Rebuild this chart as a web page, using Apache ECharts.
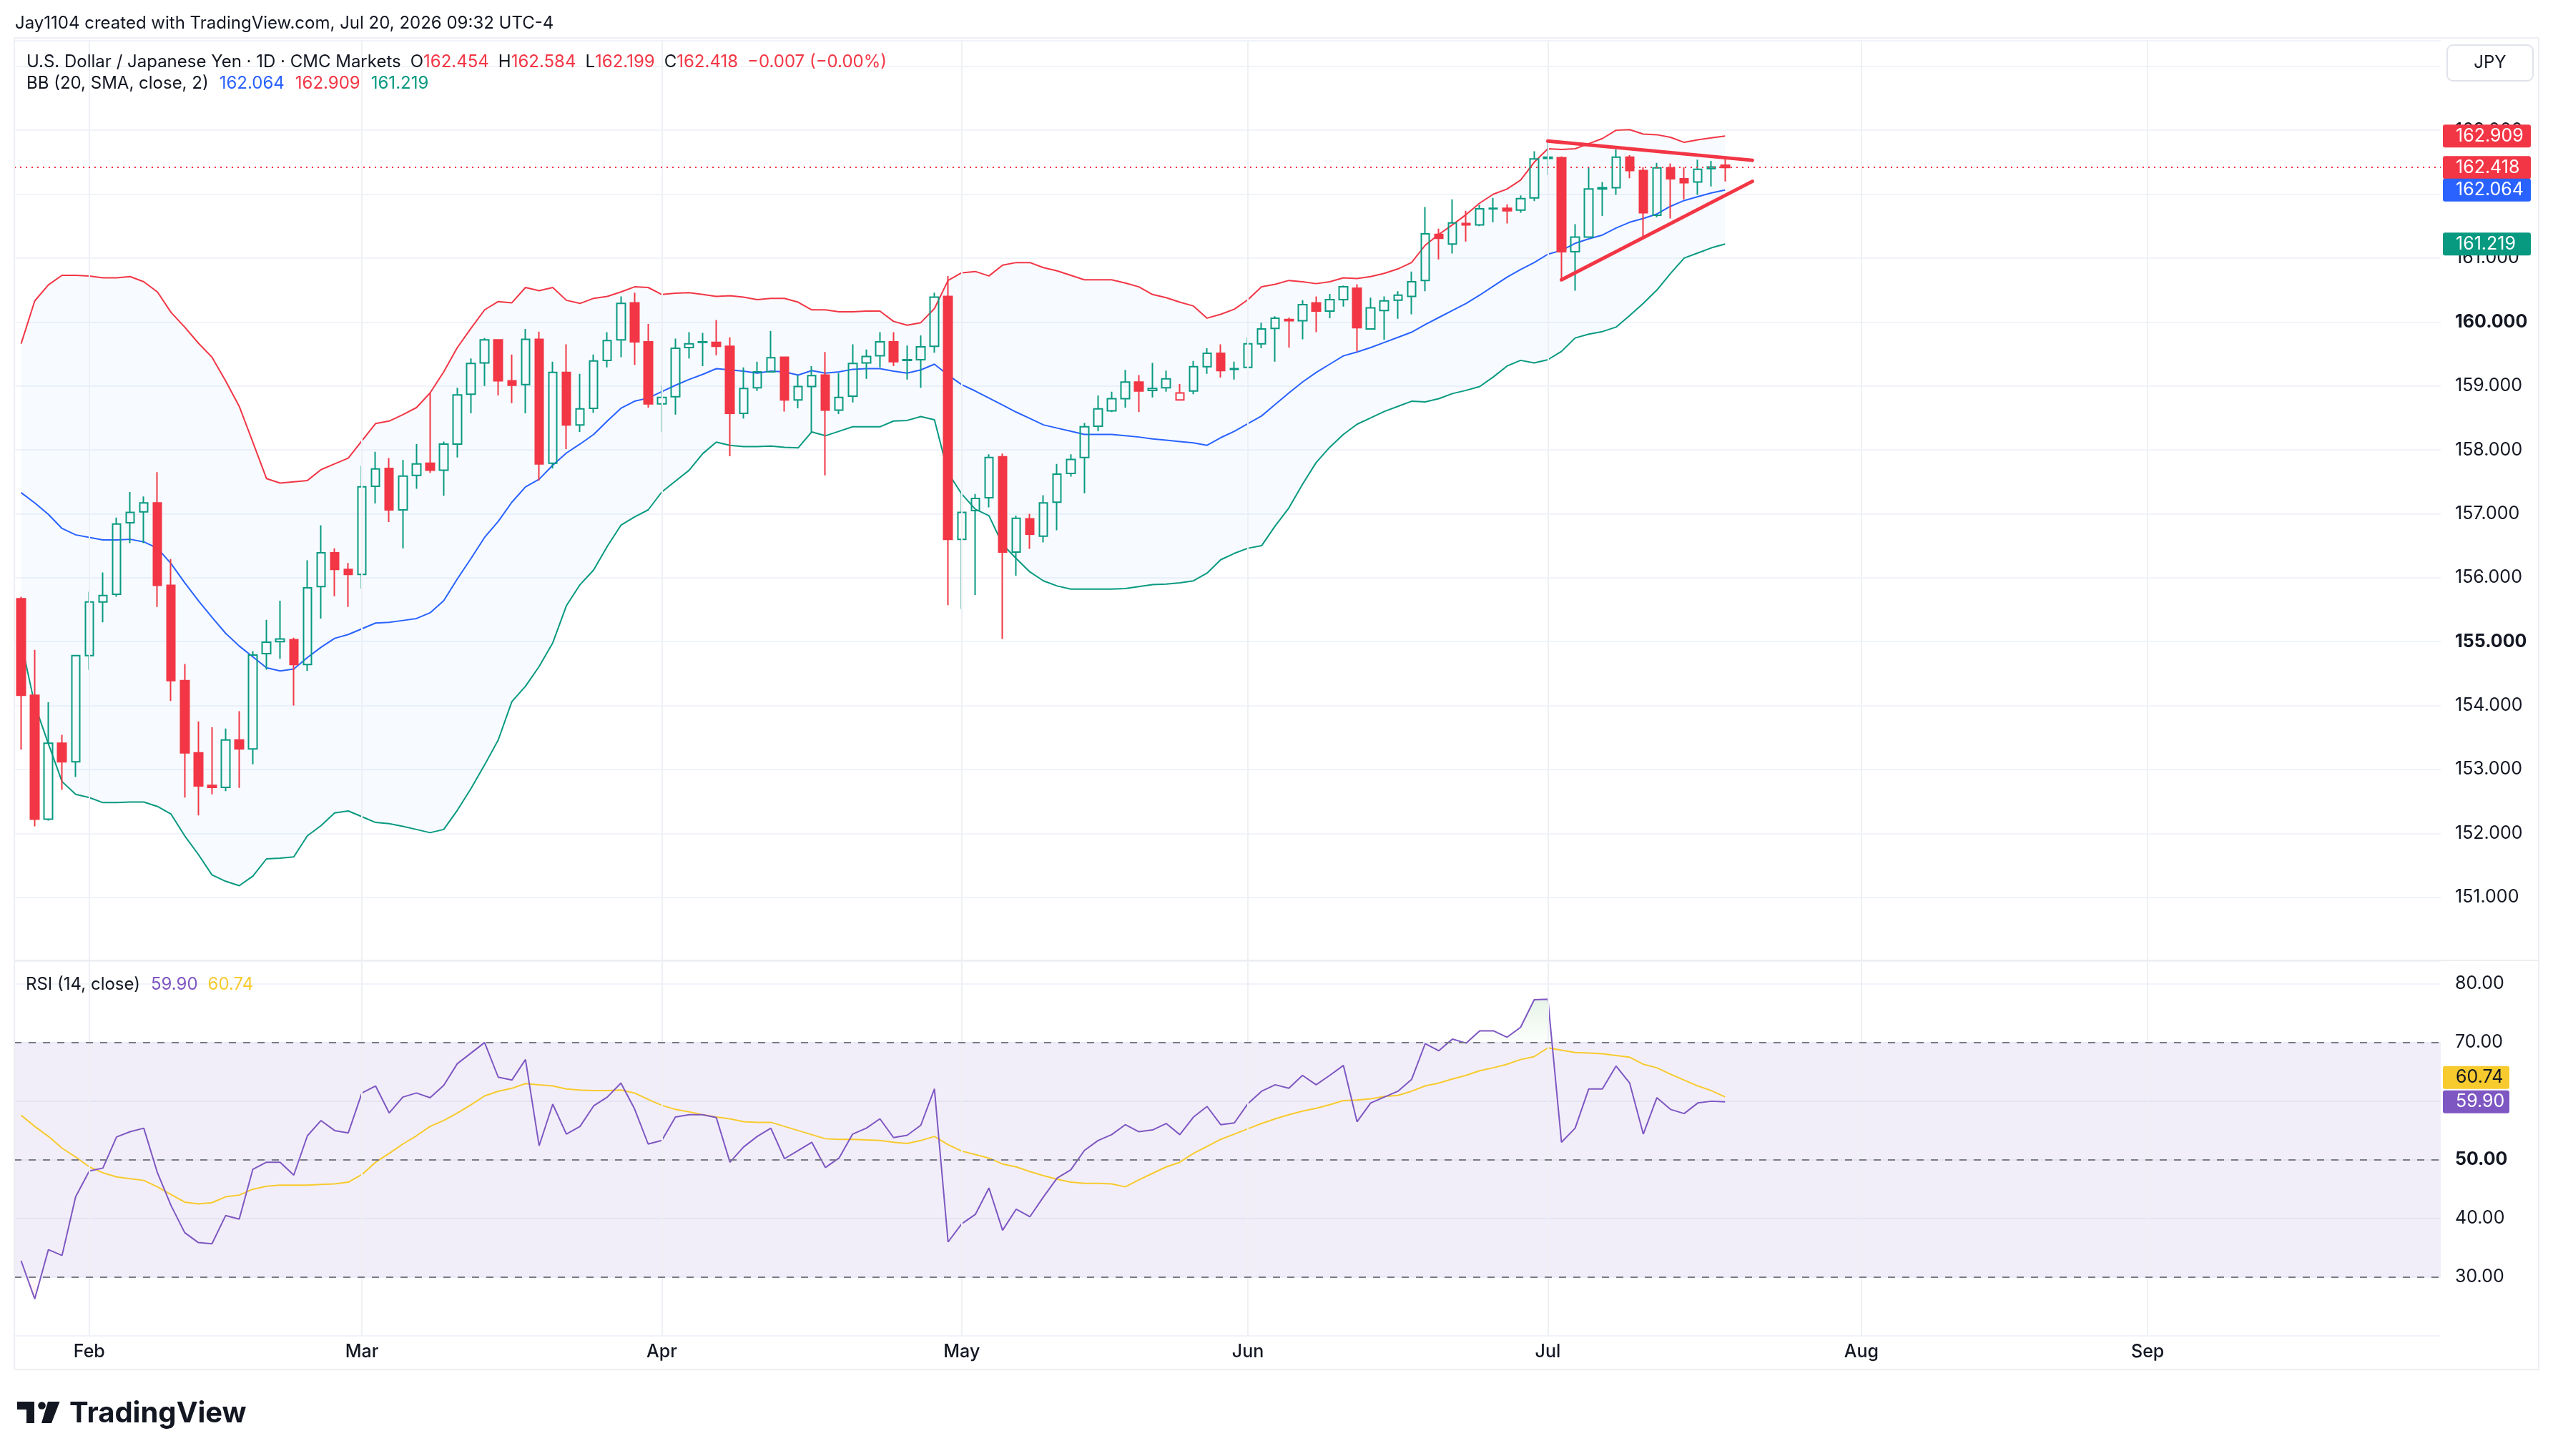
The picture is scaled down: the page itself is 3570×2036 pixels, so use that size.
<!DOCTYPE html>
<html><head><meta charset="utf-8">
<script src="https://cdn.jsdelivr.net/npm/echarts@6/dist/echarts.min.js"></script>
<style>html,body{margin:0;padding:0;background:#fff}#c{width:3570px;height:2036px}</style>
</head><body><div id="c"></div>
<script>
// ---------- categories (trading days, incl. empty future space) ----------
const dates = [
'2026-01-26','2026-01-27','2026-01-28','2026-01-29','2026-01-30',
'2026-02-02','2026-02-03','2026-02-04','2026-02-05','2026-02-06','2026-02-09','2026-02-10','2026-02-11','2026-02-12','2026-02-13',
'2026-02-16','2026-02-17','2026-02-18','2026-02-19','2026-02-20','2026-02-23','2026-02-24','2026-02-25','2026-02-26','2026-02-27',
'2026-03-02','2026-03-03','2026-03-04','2026-03-05','2026-03-06','2026-03-09','2026-03-10','2026-03-11','2026-03-12','2026-03-13',
'2026-03-16','2026-03-17','2026-03-18','2026-03-19','2026-03-20','2026-03-23','2026-03-24','2026-03-25','2026-03-26','2026-03-27','2026-03-30','2026-03-31',
'2026-04-01','2026-04-02','2026-04-03','2026-04-06','2026-04-07','2026-04-08','2026-04-09','2026-04-10','2026-04-13','2026-04-14','2026-04-15',
'2026-04-16','2026-04-17','2026-04-20','2026-04-21','2026-04-22','2026-04-23','2026-04-24','2026-04-27','2026-04-28','2026-04-29','2026-04-30',
'2026-05-01','2026-05-04','2026-05-05','2026-05-06','2026-05-07','2026-05-08','2026-05-11','2026-05-12','2026-05-13','2026-05-14','2026-05-15',
'2026-05-18','2026-05-19','2026-05-20','2026-05-21','2026-05-22','2026-05-25','2026-05-26','2026-05-27','2026-05-28','2026-05-29',
'2026-06-01','2026-06-02','2026-06-03','2026-06-04','2026-06-05','2026-06-08','2026-06-09','2026-06-10','2026-06-11','2026-06-12',
'2026-06-15','2026-06-16','2026-06-17','2026-06-18','2026-06-19','2026-06-22','2026-06-23','2026-06-24','2026-06-25','2026-06-26','2026-06-29','2026-06-30',
'2026-07-01','2026-07-02','2026-07-03','2026-07-06','2026-07-07','2026-07-08','2026-07-09','2026-07-10','2026-07-13','2026-07-14','2026-07-15',
'2026-07-16','2026-07-17','2026-07-20','2026-07-21','2026-07-22','2026-07-23','2026-07-24','2026-07-27','2026-07-28','2026-07-29','2026-07-30','2026-07-31',
'2026-08-03','2026-08-04','2026-08-05','2026-08-06','2026-08-07','2026-08-10','2026-08-11','2026-08-12','2026-08-13','2026-08-14',
'2026-08-17','2026-08-18','2026-08-19','2026-08-20','2026-08-21','2026-08-24','2026-08-25','2026-08-26','2026-08-27','2026-08-28','2026-08-31',
'2026-09-01','2026-09-02','2026-09-03','2026-09-04','2026-09-07','2026-09-08','2026-09-09','2026-09-10','2026-09-11',
'2026-09-14','2026-09-15','2026-09-16','2026-09-17','2026-09-18','2026-09-21','2026-09-22','2026-09-23','2026-09-24','2026-09-25',
'2026-09-28','2026-09-29','2026-09-30'
];
const monthTicks = {'2026-02-02':'Feb','2026-03-02':'Mar','2026-04-01':'Apr','2026-05-01':'May','2026-06-01':'Jun','2026-07-01':'Jul','2026-08-03':'Aug','2026-09-01':'Sep'};
const priceBoldTicks = [155, 160];
const rsiBoldTicks = [50];

// ---------- OHLC ----------
const opens = [155.67,154.16,152.22,153.41,153.12,154.78,155.62,155.74,156.86,157.03,157.17,155.88,154.39,153.26,152.75,152.72,153.46,153.32,154.81,155.00,
155.03,154.64,155.86,156.39,156.13,156.05,157.43,157.71,157.06,157.60,157.79,157.68,158.09,158.87,159.36,159.72,159.08,159.02,159.73,157.79,
159.21,158.39,158.65,159.40,159.72,160.30,159.69,158.72,158.83,159.60,159.68,159.68,159.62,158.57,158.97,159.22,159.45,158.78,158.99,159.17,
158.62,158.84,159.36,159.47,159.69,159.40,159.41,159.62,160.40,156.60,157.05,157.25,157.89,156.40,156.92,156.65,157.18,157.63,157.88,158.37,
158.61,158.80,159.06,158.93,158.97,158.78,158.92,159.30,159.51,159.26,159.29,159.66,159.90,160.04,160.02,160.30,160.17,160.35,160.53,159.89,
160.18,160.34,160.40,160.65,161.37,161.22,161.54,161.52,161.77,161.78,161.75,161.94,162.56,162.57,161.10,161.33,162.08,162.10,162.58,162.37,
161.67,162.41,162.24,162.19,162.40,162.454];
const highs = [155.70,154.87,154.05,153.54,154.79,155.78,156.08,156.94,157.34,157.27,157.65,156.29,154.65,153.75,153.66,153.64,153.91,154.85,155.34,155.64,
155.06,156.27,156.82,156.46,156.23,157.75,157.97,157.87,157.84,158.09,158.89,158.13,158.97,159.43,159.75,159.73,159.49,159.89,159.85,159.38,
159.65,159.19,159.49,159.84,160.40,160.46,159.97,159.01,159.74,159.84,159.83,160.03,159.76,159.29,159.38,159.86,159.46,159.17,159.31,159.53,
159.20,159.65,159.57,159.84,159.84,159.63,159.79,160.46,160.72,157.31,157.31,157.93,157.94,156.97,157.00,157.29,157.78,157.93,158.42,158.85,
158.91,159.25,159.17,159.36,159.24,159.03,159.39,159.59,159.65,159.38,159.76,159.99,160.09,160.07,160.34,160.40,160.44,160.57,160.59,160.38,
160.40,160.48,160.79,161.80,161.46,161.92,161.74,161.83,161.94,161.84,161.98,162.67,162.82,162.59,161.53,162.42,162.19,162.70,162.61,162.42,
162.49,162.48,162.42,162.54,162.52,162.584];
const lows = [153.31,152.11,152.20,152.68,152.88,154.56,155.30,155.70,156.54,156.54,155.54,154.07,152.56,152.28,152.61,152.66,152.71,153.08,154.56,154.73,
154.00,154.54,155.36,155.71,155.54,155.83,157.16,156.87,156.46,157.39,157.64,157.28,157.88,158.57,159.00,158.85,158.73,158.57,157.52,157.71,
158.01,158.28,158.58,159.29,159.45,159.33,158.66,158.28,158.55,159.43,159.31,159.48,157.90,158.49,158.92,159.22,158.60,158.65,158.28,157.60,
158.56,158.74,159.11,159.29,159.31,159.10,158.97,159.52,155.57,155.51,155.73,157.10,155.04,156.03,156.45,156.55,156.74,157.58,157.32,158.29,
158.59,158.66,158.59,158.82,158.91,158.77,158.87,159.19,159.13,159.10,159.29,159.59,159.38,159.60,159.73,159.84,160.06,160.24,159.54,159.89,
159.72,160.05,160.12,160.48,160.98,161.07,161.26,161.50,161.56,161.54,161.71,161.89,162.30,160.65,160.49,161.32,161.66,161.99,162.25,161.34,
161.64,161.62,161.92,161.99,162.12,162.199];
const closes = [154.16,152.22,153.41,153.12,154.78,155.62,155.72,156.84,157.02,157.17,155.88,154.39,153.26,152.74,152.72,153.46,153.32,154.79,154.99,155.04,
154.64,155.84,156.39,156.13,156.05,157.42,157.70,157.06,157.59,157.78,157.68,158.09,158.86,159.35,159.72,159.08,159.01,159.73,157.78,159.21,
158.39,158.64,159.39,159.71,160.29,159.69,158.72,158.82,159.59,159.66,159.69,159.62,158.57,158.96,159.22,159.44,158.78,158.99,159.16,158.62,
158.82,159.35,159.46,159.69,159.38,159.41,159.61,160.39,156.60,157.02,157.24,157.88,156.40,156.93,156.68,157.17,157.62,157.85,158.36,158.64,
158.80,159.06,158.92,158.96,159.11,158.89,159.30,159.51,159.24,159.27,159.66,159.89,160.06,160.02,160.27,160.17,160.35,160.55,159.91,160.22,
160.33,160.42,160.63,161.38,161.31,161.55,161.52,161.77,161.78,161.74,161.93,162.55,162.58,161.10,161.33,162.08,162.10,162.58,162.37,161.71,
162.41,162.24,162.18,162.39,162.425,162.418];

// ---------- Bollinger Bands (20, 2) ----------
const bbUpper = [159.66,160.33,160.58,160.73,160.73,160.72,160.69,160.69,160.71,160.63,160.47,160.15,159.92,159.67,159.45,159.08,158.68,158.12,157.55,157.48,
157.50,157.52,157.69,157.78,157.87,158.14,158.41,158.45,158.55,158.66,158.89,159.22,159.60,159.90,160.19,160.32,160.30,160.54,160.49,160.54,
160.34,160.29,160.37,160.40,160.47,160.55,160.54,160.43,160.45,160.46,160.43,160.40,160.41,160.39,160.35,160.37,160.37,160.31,160.19,160.19,
160.16,160.16,160.17,160.17,160.01,159.95,159.99,160.21,160.65,160.77,160.79,160.72,160.89,160.93,160.93,160.85,160.80,160.73,160.66,160.66,
160.66,160.61,160.55,160.43,160.38,160.31,160.25,160.06,160.12,160.20,160.35,160.55,160.59,160.65,160.63,160.60,160.63,160.69,160.68,160.71,
160.76,160.83,160.93,161.20,161.37,161.52,161.68,161.86,162.00,162.08,162.22,162.50,162.71,162.70,162.71,162.79,162.87,163.00,163.01,162.94,
162.93,162.89,162.81,162.85,162.88,162.909];
const bbBasis = [157.33,157.17,156.99,156.77,156.67,156.63,156.59,156.59,156.60,156.56,156.46,156.22,155.92,155.64,155.38,155.13,154.93,154.76,154.59,154.54,
154.57,154.75,154.91,155.05,155.11,155.20,155.29,155.30,155.33,155.36,155.45,155.64,155.98,156.30,156.63,156.88,157.18,157.42,157.54,157.76,
157.95,158.09,158.24,158.45,158.65,158.76,158.81,158.91,159.01,159.10,159.18,159.27,159.25,159.23,159.20,159.23,159.22,159.17,159.24,159.20,
159.22,159.26,159.27,159.27,159.23,159.20,159.25,159.34,159.17,159.02,158.92,158.81,158.70,158.59,158.49,158.39,158.34,158.29,158.24,158.24,
158.24,158.22,158.20,158.17,158.15,158.13,158.11,158.07,158.19,158.29,158.41,158.53,158.71,158.89,159.06,159.21,159.34,159.47,159.53,159.60,
159.68,159.76,159.84,159.96,160.07,160.18,160.29,160.42,160.56,160.70,160.82,160.93,161.06,161.12,161.23,161.30,161.36,161.47,161.56,161.62,
161.69,161.81,161.90,161.96,162.02,162.064];
const bbLower = [155.00,154.01,153.40,152.81,152.61,152.56,152.48,152.48,152.49,152.49,152.42,152.30,151.96,151.67,151.35,151.25,151.18,151.33,151.60,151.61,
151.63,151.96,152.12,152.32,152.35,152.26,152.17,152.15,152.11,152.06,152.01,152.06,152.36,152.70,153.07,153.46,154.06,154.30,154.61,154.98,
155.56,155.89,156.12,156.49,156.82,156.95,157.06,157.34,157.51,157.68,157.94,158.12,158.07,158.05,158.05,158.06,158.04,158.03,158.28,158.22,
158.29,158.36,158.36,158.36,158.45,158.46,158.52,158.47,157.64,157.31,157.07,156.97,156.52,156.30,156.09,155.95,155.87,155.82,155.82,155.82,
155.82,155.83,155.86,155.89,155.90,155.92,155.95,156.07,156.28,156.38,156.46,156.50,156.81,157.09,157.46,157.80,158.04,158.24,158.40,158.50,
158.60,158.68,158.76,158.75,158.80,158.88,158.93,158.99,159.14,159.31,159.40,159.36,159.41,159.54,159.75,159.81,159.85,159.92,160.10,160.29,
160.50,160.76,161.00,161.08,161.16,161.219];

// ---------- RSI (14) and its MA ----------
const rsi = [32.8,26.3,34.7,33.7,43.7,48.1,48.6,53.9,54.8,55.4,47.8,42.2,37.6,35.9,35.7,40.5,39.9,48.4,49.6,49.6,
47.4,54.1,56.7,55.0,54.6,61.4,62.6,58.0,60.7,61.4,60.6,62.7,66.4,68.2,70.0,64.1,63.6,67.1,52.4,59.5,
54.4,55.7,59.2,60.7,63.1,58.7,52.7,53.3,57.3,57.7,57.7,57.2,49.6,52.2,54.0,55.4,50.2,51.6,53.0,48.7,
50.3,54.4,55.4,57.0,53.8,54.2,55.9,62.1,36.0,39.1,40.7,45.2,38.0,41.6,40.3,43.7,46.9,48.3,51.6,53.3,
54.3,56.0,54.8,55.1,56.2,54.3,57.3,59.1,56.0,56.3,59.6,61.7,62.8,62.2,64.4,62.8,64.4,66.1,56.5,59.7,
60.7,61.7,63.7,69.8,68.6,70.6,69.9,72.0,72.0,70.9,72.6,77.3,77.4,53.0,55.4,62.1,62.1,66.0,63.1,54.4,
60.6,58.6,57.9,59.7,60.0,59.90];
const rsiMA = [57.6,55.7,54.0,52.0,50.5,48.8,47.8,47.1,46.8,46.5,45.4,44.1,42.8,42.5,42.7,43.7,44.0,45.0,45.5,45.7,
45.7,45.7,45.8,45.9,46.2,47.5,49.6,51.1,52.7,54.1,55.7,56.7,58.0,59.4,60.9,61.7,62.2,63.0,62.8,62.6,
62.1,61.9,61.8,61.8,61.9,61.4,60.3,59.3,58.6,58.2,57.7,57.3,57.0,56.5,56.4,56.4,55.7,55.0,54.3,53.6,
53.5,53.5,53.4,53.3,53.0,52.8,53.3,54.0,52.6,51.5,50.9,50.3,49.3,48.8,48.0,47.3,46.7,46.2,46.0,46.0,
45.9,45.4,46.6,47.7,48.8,49.6,51.1,52.3,53.5,54.4,55.3,56.2,57.0,57.7,58.3,58.8,59.4,60.1,60.2,60.4,
60.8,61.0,61.7,62.6,63.1,63.8,64.4,65.2,65.7,66.3,67.1,67.6,69.1,68.7,68.3,68.2,68.1,67.8,67.5,66.3,
65.7,64.6,63.6,62.6,61.8,60.74];

// ---------- drawings (triangle) ----------
const trendTop = [['2026-07-01', 162.83], ['2026-07-22', 162.53]];
const trendBottom = [['2026-07-02', 160.66], ['2026-07-22', 162.20]];
const rsiLevels = [70, 50, 30];

// ---------- styling ----------
const UP = '#089981', DOWN = '#F23645', BLUE = '#2962FF', PURPLE = '#7E57C2', YELLOW = '#F7CA2E', TXT = '#131722';
const FONT = 'Inter, Roboto, sans-serif';
const GRID_L = 20, GRID_R = 157, MAIN_TOP = 57, MAIN_H = 1287, RSI_TOP = 1343, RSI_H = 525;
const RSI_MIN = 20, RSI_MAX = 84;

const candleData = opens.map((o, i) => {
  const c = closes[i];
  const prev = i > 0 ? closes[i - 1] : o;
  const col = c >= prev ? UP : DOWN;
  const fill = c > o ? 'rgba(255,255,255,0)' : col;
  return {
    value: [o, c, lows[i], highs[i]],
    itemStyle: { color: fill, color0: fill, borderColor: col, borderColor0: col, borderColorDoji: col }
  };
});
const bbWidth = bbUpper.map((u, i) => +(u - bbLower[i]).toFixed(3));
const monthLines = Object.keys(monthTicks).map(d => ({ xAxis: d }));

function offs(v) { return (RSI_MAX - v) / (RSI_MAX - RSI_MIN); }
const obGradient = new echarts.graphic.LinearGradient(0, RSI_TOP, 0, RSI_TOP + RSI_H, [
  { offset: 0, color: 'rgba(76,175,80,0.35)' },
  { offset: offs(70), color: 'rgba(76,175,80,0.02)' },
  { offset: offs(70) + 0.001, color: 'rgba(255,255,255,0)' },
  { offset: offs(30), color: 'rgba(255,255,255,0)' },
  { offset: offs(30) + 0.001, color: 'rgba(242,54,69,0.02)' },
  { offset: 1, color: 'rgba(242,54,69,0.35)' }
], true);

const chart = echarts.init(document.getElementById('c'), null, { renderer: 'canvas' });

const option = {
  animation: false,
  backgroundColor: '#ffffff',
  textStyle: { fontFamily: FONT },
  grid: [
    { left: GRID_L, right: GRID_R, top: MAIN_TOP, height: MAIN_H },
    { left: GRID_L, right: GRID_R, top: RSI_TOP, height: RSI_H }
  ],
  xAxis: [
    { type: 'category', gridIndex: 0, data: dates, boundaryGap: true, show: false },
    { type: 'category', gridIndex: 1, data: dates, boundaryGap: true,
      axisLine: { show: false }, axisTick: { show: false }, splitLine: { show: false },
      axisLabel: {
        interval: (idx, val) => monthTicks[val] !== undefined,
        formatter: v => monthTicks[v] || '',
        color: TXT, fontSize: 25, fontFamily: FONT, margin: 10, fontWeight: 500
      } }
  ],
  yAxis: [
    { type: 'value', gridIndex: 0, position: 'right', min: 150, max: 164.4, interval: 1,
      axisLine: { show: false }, axisTick: { show: false },
      splitLine: { lineStyle: { color: '#f0f3fa', width: 2 } },
      axisLabel: {
        margin: 20, align: 'left', color: TXT, fontSize: 25, fontFamily: FONT, showMaxLabel: false,
        formatter: v => (v <= 150 || v >= 164) ? '' : (priceBoldTicks.includes(v) ? '{b|' + v.toFixed(3) + '}' : v.toFixed(3)),
        rich: { b: { fontWeight: 'bold', fontSize: 25, color: TXT, fontFamily: FONT } }
      } },
    { type: 'value', gridIndex: 1, position: 'right', min: RSI_MIN, max: RSI_MAX, interval: 10,
      axisLine: { show: false }, axisTick: { show: false },
      splitLine: { lineStyle: { color: '#f0f3fa', width: 2 } },
      axisLabel: {
        margin: 20, align: 'left', color: TXT, fontSize: 25, fontFamily: FONT, showMaxLabel: false,
        formatter: v => (v <= RSI_MIN || v > 80) ? '' : (rsiBoldTicks.includes(v) ? '{b|' + v.toFixed(2) + '}' : v.toFixed(2)),
        rich: { b: { fontWeight: 'bold', fontSize: 25, color: TXT, fontFamily: FONT } }
      } }
  ],
  series: [
    { name: 'bbBase', type: 'line', xAxisIndex: 0, yAxisIndex: 0, data: bbLower, stack: 'bb',
      symbol: 'none', lineStyle: { width: 0, opacity: 0 }, silent: true, z: 1,
      markLine: { silent: true, symbol: ['none', 'none'], label: { show: false },
        lineStyle: { color: '#eef0f4', width: 2, type: 'solid' }, data: monthLines } },
    { name: 'bbFill', type: 'line', xAxisIndex: 0, yAxisIndex: 0, data: bbWidth, stack: 'bb',
      symbol: 'none', lineStyle: { width: 0, opacity: 0 }, silent: true, z: 1,
      areaStyle: { color: 'rgba(33,150,243,0.05)' } },
    { name: 'Upper', type: 'line', xAxisIndex: 0, yAxisIndex: 0, data: bbUpper, symbol: 'none',
      lineStyle: { color: DOWN, width: 2 }, z: 2 },
    { name: 'Basis', type: 'line', xAxisIndex: 0, yAxisIndex: 0, data: bbBasis, symbol: 'none',
      lineStyle: { color: BLUE, width: 2 }, z: 2 },
    { name: 'Lower', type: 'line', xAxisIndex: 0, yAxisIndex: 0, data: bbLower, symbol: 'none',
      lineStyle: { color: UP, width: 2 }, z: 2 },
    { name: 'USDJPY', type: 'candlestick', xAxisIndex: 0, yAxisIndex: 0, data: candleData,
      barWidth: 12, itemStyle: { borderWidth: 2 }, z: 3,
      markLine: { silent: true, symbol: ['none', 'none'], label: { show: false },
        lineStyle: { color: DOWN, width: 2, type: [2, 6] },
        data: [{ yAxis: closes[closes.length - 1] }] } },
    { name: 'trendTop', type: 'line', xAxisIndex: 0, yAxisIndex: 0, data: trendTop, symbol: 'none',
      lineStyle: { color: '#F23645', width: 5, cap: 'round' }, z: 5 },
    { name: 'trendBottom', type: 'line', xAxisIndex: 0, yAxisIndex: 0, data: trendBottom, symbol: 'none',
      lineStyle: { color: '#F23645', width: 5, cap: 'round' }, z: 5 },
    { name: 'rsiFill', type: 'line', xAxisIndex: 1, yAxisIndex: 1, data: rsi, symbol: 'none',
      lineStyle: { width: 0, opacity: 0 }, areaStyle: { origin: 70, color: obGradient }, z: 1, silent: true,
      markArea: { silent: true, itemStyle: { color: 'rgba(126,87,194,0.1)' },
        data: [[{ yAxis: 30 }, { yAxis: 70 }]] },
      markLine: { silent: true, symbol: ['none', 'none'], label: { show: false },
        lineStyle: { color: '#eef0f4', width: 2, type: 'solid' }, data: monthLines } },
    { name: 'RSI-MA', type: 'line', xAxisIndex: 1, yAxisIndex: 1, data: rsiMA, symbol: 'none',
      lineStyle: { color: YELLOW, width: 2 }, z: 3,
      markLine: { silent: true, symbol: ['none', 'none'], label: { show: false },
        lineStyle: { color: '#787B86', width: 2, type: [10, 10] },
        data: rsiLevels.map(v => ({ yAxis: v })) } },
    { name: 'RSI', type: 'line', xAxisIndex: 1, yAxisIndex: 1, data: rsi, symbol: 'none',
      lineStyle: { color: PURPLE, width: 2 }, z: 4 }
  ]
};
chart.setOption(option);

// ---------- overlays: texts, borders, price tags ----------
const last = closes.length - 1;
function tag(y, text, bg, fg, w) {
  return [
    { type: 'rect', shape: { x: 3416, y: y - 16, width: w, height: 32, r: 3 }, style: { fill: bg }, z: 100 },
    { type: 'text', x: 3434, y: y, style: { text: text, fill: fg, font: '25px ' + FONT, verticalAlign: 'middle' }, z: 101 }
  ];
}
const py = v => chart.convertToPixel({ yAxisIndex: 0 }, v);
const ry = v => chart.convertToPixel({ yAxisIndex: 1 }, v);
let yRsi = ry(rsi[last]);
let yMa = ry(rsiMA[last]);
if (Math.abs(yMa - yRsi) < 34) { yMa = yRsi - 34; }

const F = '24px ' + FONT;
const lineCol = '#eceef2';
const graphics = [
  { type: 'line', shape: { x1: 20, y1: 53, x2: 3550, y2: 53 }, style: { stroke: lineCol, lineWidth: 2 }, z: 50 },
  { type: 'line', shape: { x1: 20, y1: 1343, x2: 3550, y2: 1343 }, style: { stroke: lineCol, lineWidth: 2 }, z: 50 },
  { type: 'line', shape: { x1: 20, y1: 1915, x2: 3550, y2: 1915 }, style: { stroke: lineCol, lineWidth: 2 }, z: 50 },
  { type: 'line', shape: { x1: 20, y1: 53, x2: 20, y2: 1915 }, style: { stroke: lineCol, lineWidth: 2 }, z: 50 },
  { type: 'line', shape: { x1: 3550, y1: 53, x2: 3550, y2: 1915 }, style: { stroke: lineCol, lineWidth: 2 }, z: 50 },
  { type: 'text', x: 21, y: 33, style: { text: 'Jay1104 created with TradingView.com, Jul 20, 2026 09:32 UTC-4',
      fill: TXT, font: F, verticalAlign: 'middle' }, z: 60 },
  { type: 'text', x: 37, y: 87, z: 60, style: {
      text: '{d|U.S. Dollar / Japanese Yen · 1D · CMC Markets}{l|O}{r|' + opens[last].toFixed(3) + '}{l|H}{r|' + highs[last].toFixed(3) +
            '}{l|L}{r|' + lows[last].toFixed(3) + '}{l|C}{r|' + closes[last].toFixed(3) + '}{r2|−0.007 (−0.00%)}',
      verticalAlign: 'middle', font: F,
      rich: {
        d: { fill: TXT, font: F },
        l: { fill: TXT, font: F, padding: [0, 0, 0, 13] },
        r: { fill: DOWN, font: F },
        r2: { fill: DOWN, font: F, padding: [0, 0, 0, 13] }
      } } },
  { type: 'text', x: 37, y: 117, z: 60, style: {
      text: '{d|BB (20, SMA, close, 2)}{b|' + bbBasis[last].toFixed(3) + '}{r|' + bbUpper[last].toFixed(3) + '}{g|' + bbLower[last].toFixed(3) + '}',
      verticalAlign: 'middle', font: F,
      rich: {
        d: { fill: TXT, font: F },
        b: { fill: BLUE, font: F, padding: [0, 0, 0, 15] },
        r: { fill: DOWN, font: F, padding: [0, 0, 0, 15] },
        g: { fill: UP, font: F, padding: [0, 0, 0, 15] }
      } } },
  { type: 'text', x: 36, y: 1377, z: 60, style: {
      text: '{d|RSI (14, close)}{p|' + rsi[last].toFixed(2) + '}{y|' + rsiMA[last].toFixed(2) + '}',
      verticalAlign: 'middle', font: F,
      rich: {
        d: { fill: TXT, font: F },
        p: { fill: PURPLE, font: F, padding: [0, 0, 0, 15] },
        y: { fill: YELLOW, font: F, padding: [0, 0, 0, 14] }
      } } },
  { type: 'rect', shape: { x: 3422, y: 63, width: 120, height: 50, r: 8 }, style: { fill: '#fff', stroke: '#e0e3eb', lineWidth: 2 }, z: 60 },
  { type: 'text', x: 3482, y: 88, style: { text: 'JPY', fill: TXT, font: F, align: 'center', verticalAlign: 'middle' }, z: 61 },
  // TradingView logo
  { type: 'polygon', shape: { points: [[24, 1960], [48, 1960], [48, 1990], [37, 1990], [37, 1971], [24, 1971]] }, style: { fill: TXT }, z: 60 },
  { type: 'circle', shape: { cx: 58.5, cy: 1965.5, r: 5.3 }, style: { fill: TXT }, z: 60 },
  { type: 'polygon', shape: { points: [[67, 1960], [83.5, 1960], [72, 1990], [58, 1990]] }, style: { fill: TXT }, z: 60 },
  { type: 'text', x: 97, y: 1977, style: { text: 'TradingView', fill: TXT, font: 'bold 40px ' + FONT, verticalAlign: 'middle' }, z: 60 }
]
  .concat(tag(py(bbUpper[last]), bbUpper[last].toFixed(3), DOWN, '#fff', 123))
  .concat(tag(py(closes[last]), closes[last].toFixed(3), DOWN, '#fff', 123))
  .concat(tag(py(bbBasis[last]), bbBasis[last].toFixed(3), BLUE, '#fff', 123))
  .concat(tag(py(bbLower[last]), bbLower[last].toFixed(3), UP, '#fff', 123))
  .concat(tag(yMa, rsiMA[last].toFixed(2), YELLOW, TXT, 93))
  .concat(tag(yRsi, rsi[last].toFixed(2), PURPLE, '#fff', 93));

chart.setOption({ graphic: graphics });
</script>
</body></html>
